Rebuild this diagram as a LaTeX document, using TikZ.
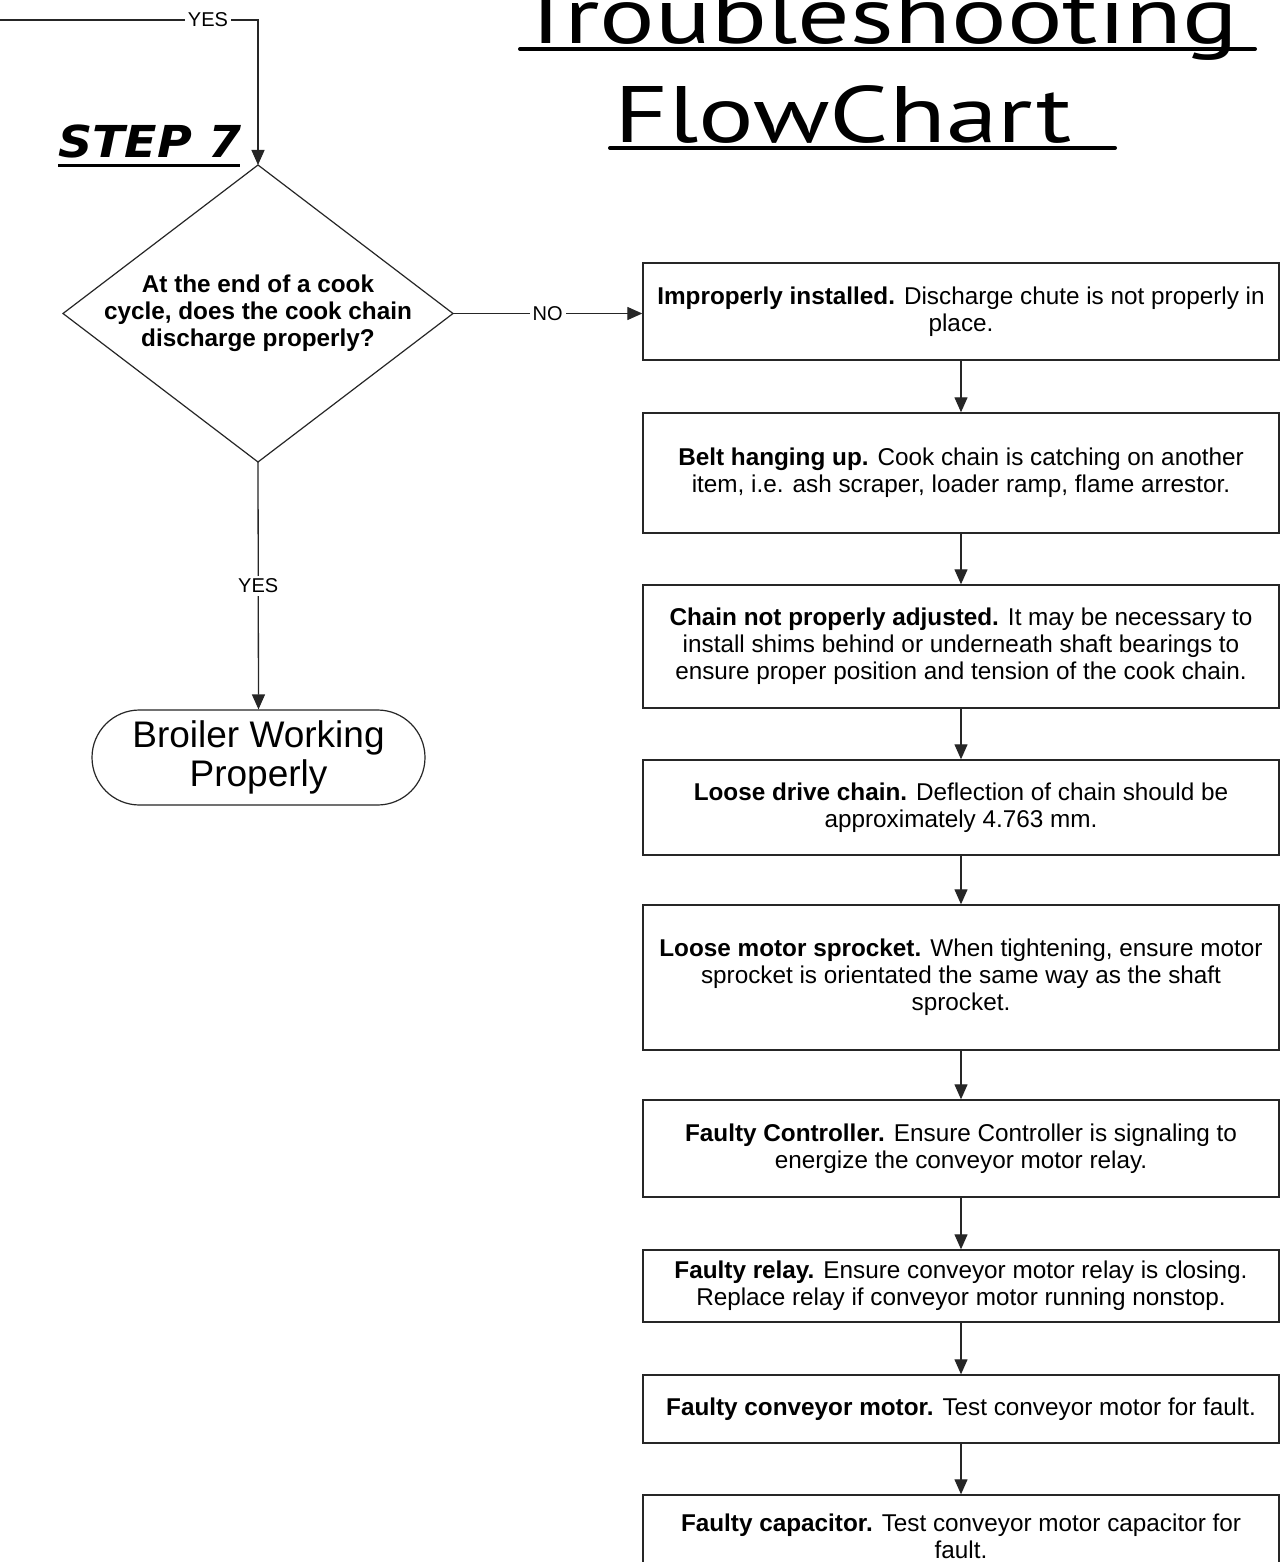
\documentclass[tikz,border=0pt]{standalone}
\usepackage{fontspec}
\setmainfont{Liberation Sans}
\newfontfamily\titlefont[FakeStretch=1.3]{PT Sans}
\newfontfamily\stepfont[FakeStretch=1.08]{DejaVu Sans}
\usetikzlibrary{arrows.meta,shapes.geometric,shapes.misc}
\begin{document}
\begin{tikzpicture}[x=1pt,y=-1pt,
  conn/.style={draw=black!85, line width=1.3pt},
  arr/.style={conn,-{Triangle[length=15pt,width=13pt]}},
  box/.style={draw=black!85, line width=1.4pt, rectangle, minimum width=636pt, inner sep=0pt, align=center, font=\fontsize{24.3}{27}\selectfont},
  lbl/.style={fill=white, inner sep=3pt, font=\fontsize{20}{24}\selectfont},
  uline/.style={line width=4pt, line cap=round},
  shapeline/.style={draw=black!85, line width=1.2pt},
]
\clip (0,0) rectangle (1280,1562);
\fill[white] (0,0) rectangle (1280,1562);

% title
\node[anchor=base, inner sep=0pt, font=\titlefont\fontsize{80}{80}\selectfont] (t1) at (878,44) {Troubleshooting};
\node[anchor=base, inner sep=0pt, font=\titlefont\fontsize{80}{80}\selectfont] (t2) at (843,143) {FlowChart};
\draw[uline] (520,49) -- (1255,49);
\draw[uline] (610,148) -- (1115,148);

% step label
\node[anchor=base west, inner sep=0pt, font=\stepfont\bfseries\itshape\fontsize{44}{44}\selectfont] (step) at (58,158) {STEP 7};
\draw[line width=3pt] (58,166) -- (240,166);

% decision
\node[inner sep=0pt, align=center, font=\bfseries\fontsize{24.3}{27}\selectfont] (dia) at (258,313.5) {At the end of a cook\\cycle, does the cook chain\\discharge properly?};
\coordinate (dtop) at (258,165);
\coordinate (dbot) at (258,462);
\coordinate (dleft) at (63,313.5);
\coordinate (dright) at (453,313.5);
\draw[shapeline] (dtop) -- (dright) -- (dbot) -- (dleft) -- cycle;

% terminal
\node[shapeline, rounded rectangle, minimum width=333pt, minimum height=95pt, inner sep=0pt, align=center, font=\fontsize{37}{39}\selectfont] (term) at (258.5,757.5) {Broiler Working\\Properly};

% boxes
\node[box, minimum height=97pt] (b1) at (961,311.5) {\textbf{Improperly installed.} Discharge chute is not properly in\\place.};
\node[box, minimum height=120pt] (b2) at (961,473) {\textbf{Belt hanging up.} Cook chain is catching on another\\item, i.e. ash scraper, loader ramp, flame arrestor.};
\node[box, minimum height=123pt] (b3) at (961,646.5) {\textbf{Chain not properly adjusted.} It may be necessary to\\install shims behind or underneath shaft bearings to\\ensure proper position and tension of the cook chain.};
\node[box, minimum height=95pt] (b4) at (961,807.5) {\textbf{Loose drive chain.} Deflection of chain should be\\approximately 4.763 mm.};
\node[box, minimum height=145pt] (b5) at (961,977.5) {\textbf{Loose motor sprocket.} When tightening, ensure motor\\sprocket is orientated the same way as the shaft\\sprocket.};
\node[box, minimum height=97pt] (b6) at (961,1148.5) {\textbf{Faulty Controller.} Ensure Controller is signaling to\\energize the conveyor motor relay.};
\node[box, minimum height=72pt] (b7) at (961,1286) {\textbf{Faulty relay.} Ensure conveyor motor relay is closing.\\Replace relay if conveyor motor running nonstop.};
\node[box, minimum height=68pt] (b8) at (961,1409) {\textbf{Faulty conveyor motor.} Test conveyor motor for fault.};
\node[box, minimum height=82pt] (b9) at (961,1536) {\textbf{Faulty capacitor.} Test conveyor motor capacitor for\\fault.};

% connectors
\coordinate (in0) at (0,20);
\coordinate (in1) at (258,20);
\draw[arr] (in0) -- node[lbl, pos=0.806] {YES} (in1) -- (dtop);
\draw[arr] (dright) -- node[lbl] {NO} (dright -| b1.west);
\draw[arr] (dbot) -- node[lbl] {YES} (term.north);
\draw[arr] (b1.south) -- (b2.north);
\draw[arr] (b2.south) -- (b3.north);
\draw[arr] (b3.south) -- (b4.north);
\draw[arr] (b4.south) -- (b5.north);
\draw[arr] (b5.south) -- (b6.north);
\draw[arr] (b6.south) -- (b7.north);
\draw[arr] (b7.south) -- (b8.north);
\draw[arr] (b8.south) -- (b9.north);
\end{tikzpicture}
\end{document}
